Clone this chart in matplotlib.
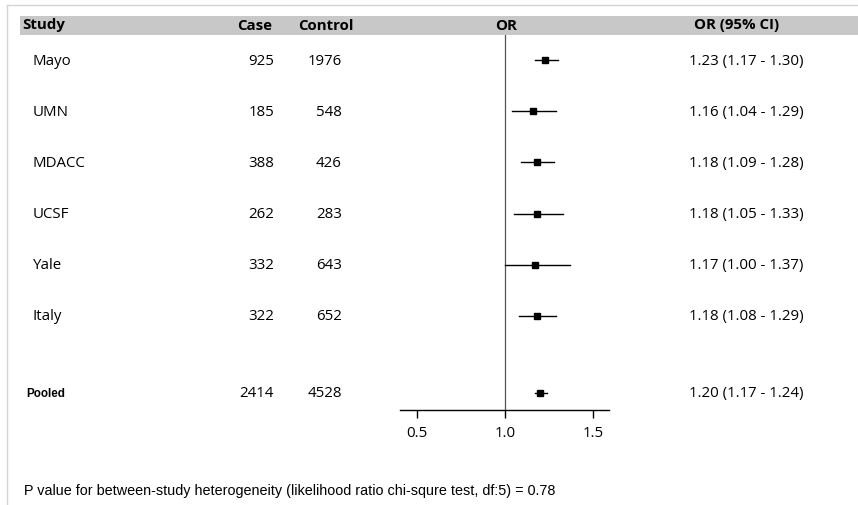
import matplotlib
matplotlib.use("Agg")
import matplotlib.pyplot as plt
from matplotlib.transforms import blended_transform_factory
from matplotlib.patches import Rectangle
from matplotlib.lines import Line2D

studies = ["Mayo", "UMN", "MDACC", "UCSF", "Yale", "Italy", "Pooled"]
cases = [925, 185, 388, 262, 332, 322, 2414]
controls = [1976, 548, 426, 283, 643, 652, 4528]
or_est = [1.23, 1.16, 1.18, 1.18, 1.17, 1.18, 1.20]
ci_low = [1.17, 1.04, 1.09, 1.05, 1.00, 1.08, 1.17]
ci_high = [1.30, 1.29, 1.28, 1.33, 1.37, 1.29, 1.24]
row_pos = [0, 1, 2, 3, 4, 5, 6.5]
xticks = [0.5, 1.0, 1.5]
footer = "P value for between-study heterogeneity (likelihood ratio chi-squre test, df:5) = 0.78"

W, H = 858, 505
FONT = "Open Sans"
plt.rcParams["font.family"] = [FONT, "DejaVu Sans"]
fig = plt.figure(figsize=(W / 100, H / 100), dpi=100)
FS = 10.8

def fx(px):
    return px / W

def fy(py):
    return 1 - py / H

# border lines (top and left)
fig.add_artist(Line2D([fx(7), fx(W)], [fy(5), fy(5)], color="#d4d4d4", lw=1))
fig.add_artist(Line2D([fx(7), fx(7)], [fy(5), fy(H)], color="#d4d4d4", lw=1))

# header band
fig.add_artist(Rectangle((fx(20), fy(35)), fx(W) - fx(20), fy(16) - fy(35),
                         facecolor="#c8c8c8", edgecolor="none"))
hy = fy(25.5)
hfs = 10.8
fig.text(fx(22), hy, "Study", fontsize=hfs, fontweight="bold", va="center", ha="left")
fig.text(fx(272), hy, "Case", fontsize=hfs, fontweight="bold", va="center", ha="right")
fig.text(fx(298), hy, "Control", fontsize=hfs, fontweight="bold", va="center", ha="left")
fig.text(fx(506), hy, "OR", fontsize=hfs, fontweight="bold", va="center", ha="center")
fig.text(fx(737), hy, "OR (95% CI)", fontsize=hfs, fontweight="bold", va="center", ha="center")

# forest axes
x0, x1 = 400, 609
ytop, ybot = 35, 410
ax = fig.add_axes([fx(x0), fy(ybot), fx(x1) - fx(x0), fy(ytop) - fy(ybot)])
ax.set_xlim(0.5 - 17 / 176, 1.5 + 16 / 176)
ax.set_ylim(6.84, -0.49)
ax.axvline(1.0, color="#555555", lw=0.9, zorder=1)
for i in range(len(studies)):
    y = row_pos[i]
    ax.plot([ci_low[i], ci_high[i]], [y, y], color="black", lw=1.0, zorder=2)
    ms = 5 if i < len(studies) - 1 else 4.5
    ax.plot(or_est[i], y, marker="s", color="black", ms=ms, zorder=3)
for s in ["top", "right", "left"]:
    ax.spines[s].set_visible(False)
ax.spines["bottom"].set_linewidth(1.0)
ax.set_yticks([])
ax.set_xticks(xticks)
ax.set_xticklabels([f"{t:.1f}" for t in xticks])
ax.tick_params(axis="x", length=6, width=1, labelsize=FS, pad=5.5)
ax.patch.set_alpha(0)

tr = blended_transform_factory(fig.transFigure, ax.transData)
for i, name in enumerate(studies):
    y = row_pos[i] + 0.02
    if name == "Pooled":
        fig.text(fx(26), y, name, fontsize=8.4, fontweight="bold", va="center", ha="left",
                 transform=tr, family=["Liberation Sans", "DejaVu Sans"])
    else:
        fig.text(fx(33), y, name, fontsize=FS, va="center", ha="left", transform=tr)
    fig.text(fx(274), y, f"{cases[i]}", fontsize=FS, va="center", ha="right", transform=tr)
    fig.text(fx(342), y, f"{controls[i]}", fontsize=FS, va="center", ha="right", transform=tr)
    fig.text(fx(689), y, f"{or_est[i]:.2f} ({ci_low[i]:.2f} - {ci_high[i]:.2f})",
             fontsize=FS, va="center", ha="left", transform=tr)

fig.text(fx(24), fy(491), footer, fontsize=10.4, va="center", ha="left",
         family=["Liberation Sans", "DejaVu Sans"])

fig.savefig("out.png", dpi=100)
